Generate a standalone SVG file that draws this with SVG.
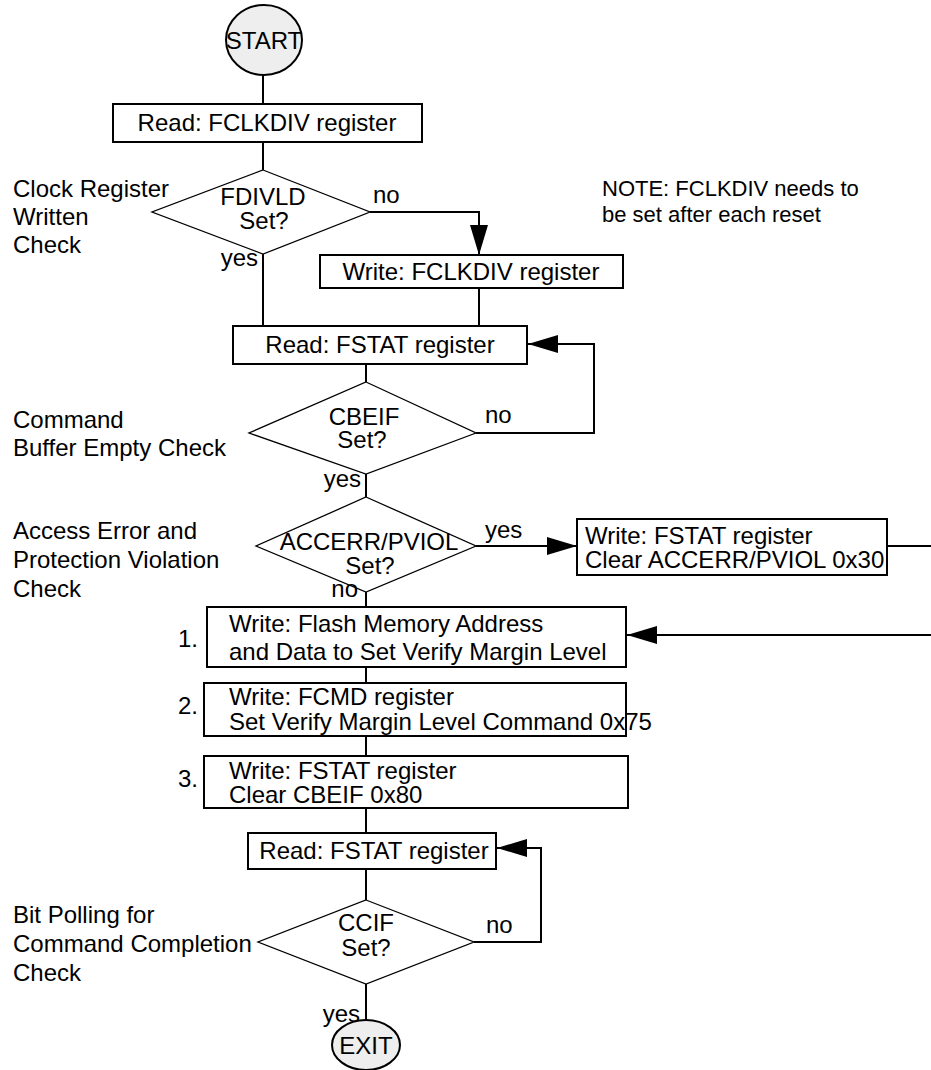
<svg xmlns="http://www.w3.org/2000/svg" width="931" height="1070" viewBox="0 0 931 1070">
<style>
text{font-family:"Liberation Sans",Arial,sans-serif;font-size:24px;fill:#000}
.m{text-anchor:middle}
.r{text-anchor:end}
.note{font-size:22px}
.box{fill:#fff;stroke:#000;stroke-width:2}
.dia{fill:#fff;stroke:#000;stroke-width:1.3}
.term{fill:#eeeeee;stroke:#000;stroke-width:2}
.c{fill:none;stroke:#000;stroke-width:2}
</style>
<defs>
<marker id="ah" markerUnits="userSpaceOnUse" markerWidth="30" markerHeight="18" refX="30" refY="9" orient="auto">
<path d="M0,0 L30,9 L0,18 z" fill="#000"/>
</marker>
</defs>
<g id="connectors">
<line class="c" x1="263" y1="75" x2="263" y2="104"/>
<line class="c" x1="263" y1="142" x2="263" y2="170"/>
<line class="c" x1="263" y1="254" x2="263" y2="326"/>
<polyline class="c" points="370,212 479,212 479,255" marker-end="url(#ah)"/>
<line class="c" x1="479" y1="288" x2="479" y2="326"/>
<line class="c" x1="366" y1="364" x2="366" y2="382"/>
<polyline class="c" points="476,433 594,433 594,344 528,344" marker-end="url(#ah)"/>
<line class="c" x1="366" y1="474" x2="366" y2="497"/>
<line class="c" x1="476" y1="546" x2="577" y2="546" marker-end="url(#ah)"/>
<line class="c" x1="366" y1="592" x2="366" y2="607"/>
<line class="c" x1="887" y1="546" x2="931" y2="546"/>
<line class="c" x1="931" y1="635" x2="627" y2="635" marker-end="url(#ah)"/>
<line class="c" x1="366" y1="667" x2="366" y2="683"/>
<line class="c" x1="366" y1="736" x2="366" y2="756"/>
<line class="c" x1="366" y1="808" x2="366" y2="833"/>
<line class="c" x1="366" y1="869" x2="366" y2="900"/>
<polyline class="c" points="474,942 541,942 541,848 497,848" marker-end="url(#ah)"/>
<line class="c" x1="366" y1="984" x2="366" y2="1020"/>
</g>
<g id="start">
<ellipse class="term" cx="264" cy="40" rx="38" ry="35"/>
<text class="m" x="264" y="49">START</text>
</g>
<g id="read-fclkdiv">
<rect class="box" x="113" y="104" width="309" height="38"/>
<text class="m" x="267" y="131">Read: FCLKDIV register</text>
</g>
<g id="fdivld">
<polygon class="dia" points="263,170 370,212 263,254 152,212"/>
<text class="m" x="263" y="205">FDIVLD</text>
<text class="m" x="264" y="229">Set?</text>
<text x="373" y="203">no</text>
<text class="r" x="258" y="266">yes</text>
</g>
<g id="label-clock">
<text x="13" y="197">Clock Register</text>
<text x="13" y="225">Written</text>
<text x="13" y="253">Check</text>
</g>
<g id="note">
<text class="note" x="602" y="196">NOTE: FCLKDIV needs to</text>
<text class="note" x="602" y="222">be set after each reset</text>
</g>
<g id="write-fclkdiv">
<rect class="box" x="320" y="255" width="303" height="33"/>
<text class="m" x="471" y="280">Write: FCLKDIV register</text>
</g>
<g id="read-fstat-1">
<rect class="box" x="233" y="326" width="294" height="38"/>
<text class="m" x="380" y="353">Read: FSTAT register</text>
</g>
<g id="cbeif">
<polygon class="dia" points="366,382 476,433 366,474 249,433"/>
<text class="m" x="364" y="425">CBEIF</text>
<text class="m" x="362" y="448">Set?</text>
<text x="485" y="423">no</text>
<text class="r" x="361" y="487">yes</text>
</g>
<g id="label-cmd">
<text x="13" y="428">Command</text>
<text x="13" y="456">Buffer Empty Check</text>
</g>
<g id="accerr">
<polygon class="dia" points="366,497 476,546 366,592 256,546"/>
<text class="m" x="369" y="550">ACCERR/PVIOL</text>
<text class="m" x="370" y="574">Set?</text>
<text x="485" y="538">yes</text>
<text class="r" x="358" y="597">no</text>
</g>
<g id="label-access">
<text x="13" y="539">Access Error and</text>
<text x="13" y="568">Protection Violation</text>
<text x="13" y="597">Check</text>
</g>
<g id="write-fstat-clear">
<rect class="box" x="577" y="519" width="310" height="56"/>
<text x="585" y="544">Write: FSTAT register</text>
<text x="585" y="568">Clear ACCERR/PVIOL 0x30</text>
</g>
<g id="step1">
<rect class="box" x="207" y="607" width="419" height="60"/>
<text x="229" y="632">Write: Flash Memory Address</text>
<text x="229" y="660">and Data to Set Verify Margin Level</text>
<text x="178" y="647">1.</text>
</g>
<g id="step2">
<rect class="box" x="204" y="683" width="422" height="53"/>
<text x="229" y="705">Write: FCMD register</text>
<text x="229" y="730">Set Verify Margin Level Command 0x75</text>
<text x="178" y="714">2.</text>
</g>
<g id="step3">
<rect class="box" x="204" y="756" width="424" height="52"/>
<text x="229" y="779">Write: FSTAT register</text>
<text x="229" y="803">Clear CBEIF 0x80</text>
<text x="178" y="787">3.</text>
</g>
<g id="read-fstat-2">
<rect class="box" x="248" y="833" width="248" height="36"/>
<text class="m" x="374" y="859">Read: FSTAT register</text>
</g>
<g id="ccif">
<polygon class="dia" points="366,900 474,942 366,984 258,942"/>
<text class="m" x="366" y="931">CCIF</text>
<text class="m" x="366" y="956">Set?</text>
<text x="486" y="933">no</text>
<text class="r" x="360" y="1022">yes</text>
</g>
<g id="label-poll">
<text x="13" y="923">Bit Polling for</text>
<text x="13" y="952">Command Completion</text>
<text x="13" y="981">Check</text>
</g>
<g id="exit">
<ellipse class="term" cx="366" cy="1045" rx="34" ry="25"/>
<text class="m" x="366" y="1054">EXIT</text>
</g>
</svg>
